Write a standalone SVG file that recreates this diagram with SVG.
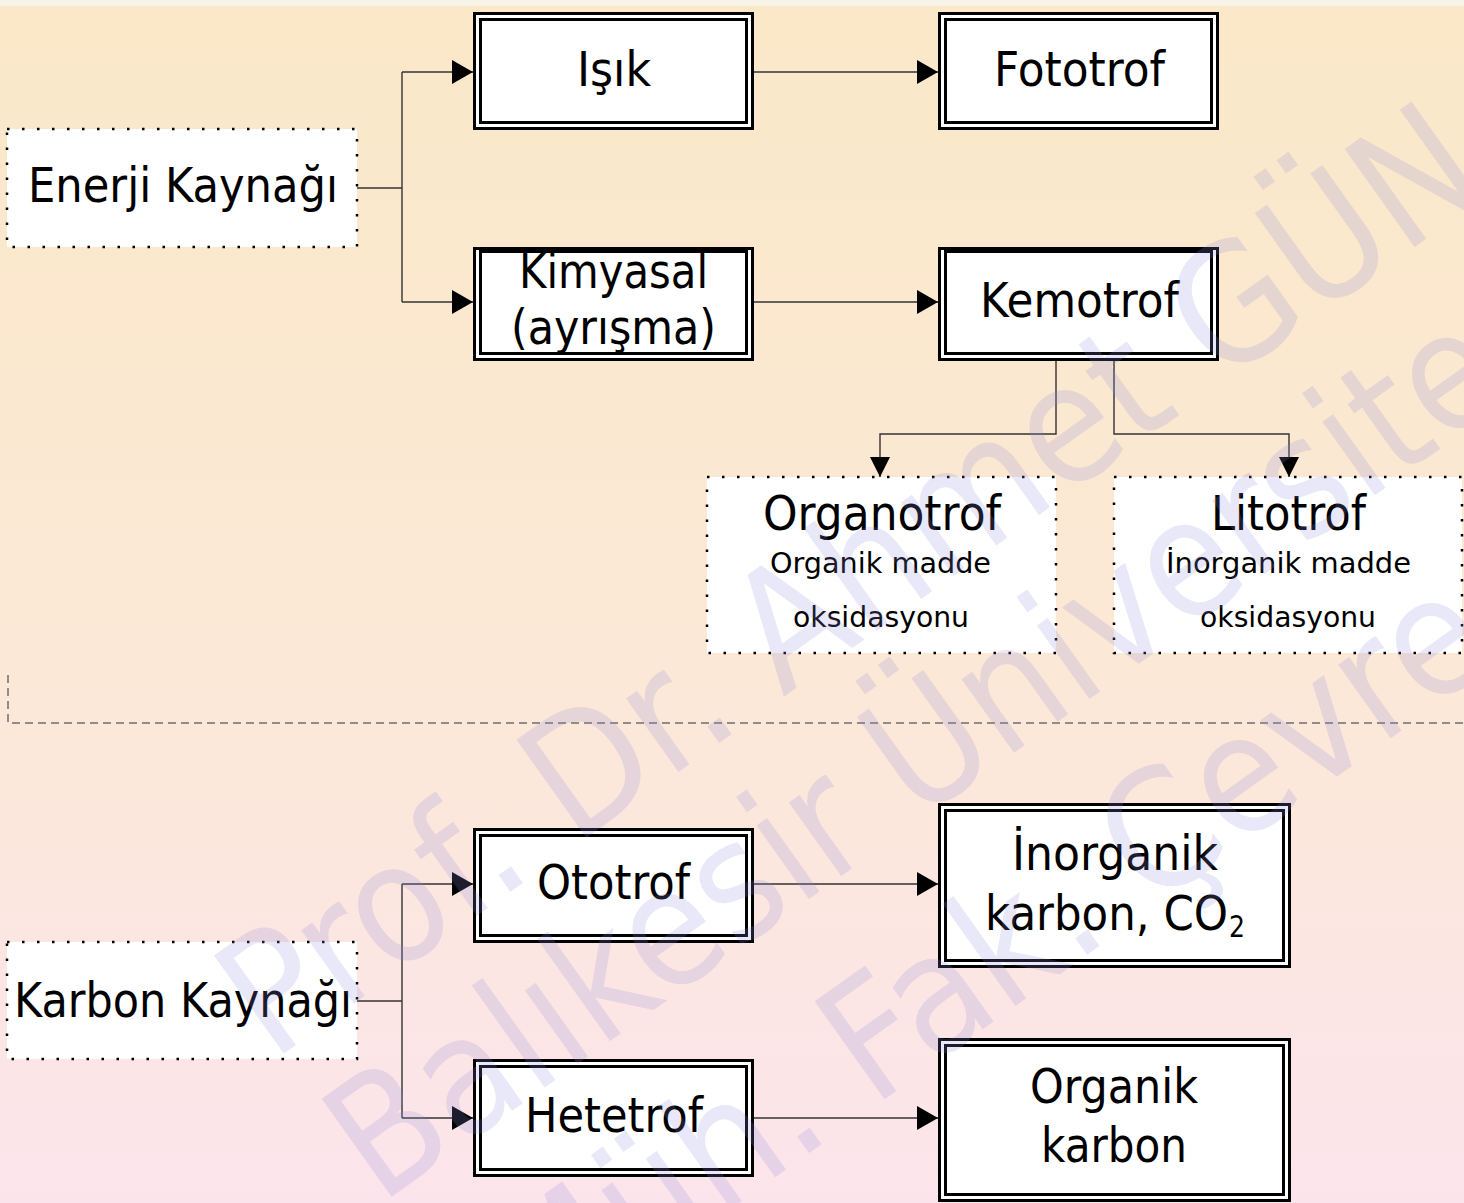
<svg xmlns="http://www.w3.org/2000/svg" width="1464" height="1203" viewBox="0 0 1464 1203">
  <defs>
    <linearGradient id="bg" x1="0" y1="0" x2="0" y2="1">
      <stop offset="0" stop-color="#FAE8C8"/>
      <stop offset="0.55" stop-color="#FCE8D6"/>
      <stop offset="1" stop-color="#FCE4EC"/>
    </linearGradient>
    <marker id="arrow" markerUnits="userSpaceOnUse" markerWidth="24" markerHeight="26" refX="21" refY="12" orient="auto">
      <path d="M0,0 L21,12 L0,24 Z" fill="#000"/>
    </marker>
    <marker id="arrowv" markerUnits="userSpaceOnUse" markerWidth="22" markerHeight="22" refX="20" refY="10" orient="auto">
      <path d="M0,0 L20,10 L0,20 Z" fill="#000"/>
    </marker>
  </defs>
  <style>
    .outer { fill: #fff; stroke: #000; stroke-width: 3; }
    .inner { fill: none; stroke: #000; stroke-width: 3; }
    .dotted { fill: #fff; stroke: #000; stroke-width: 2.5; stroke-dasharray: 2.5 12.5; }
    .conn { fill: none; stroke: #333; stroke-width: 1.4; }
    .lbl { font-family: "DejaVu Sans", "Verdana", sans-serif; font-size: 48px; fill: #000; text-anchor: middle; }
    .sub { font-family: "DejaVu Sans", "Verdana", sans-serif; font-size: 28px; fill: #000; text-anchor: middle; }
    .wm { font-family: "DejaVu Sans", "Verdana", sans-serif; font-size: 165px; fill: rgb(140,140,220); fill-opacity: 0.2; }
  </style>

  <!-- background -->
  <rect x="0" y="0" width="1464" height="1203" fill="url(#bg)"/>
  <rect x="0" y="0" width="1464" height="6" fill="#F7F3E6"/>

  <!-- separator -->
  <path d="M8,675 V723 H1464" fill="none" stroke="#6E6E6E" stroke-width="1.5" stroke-dasharray="8 5"/>

  <!-- connectors -->
  <g id="connectors">
    <path class="conn" d="M357,188 H402"/>
    <path class="conn" d="M402,72 V302"/>
    <path class="conn" d="M402,72 H473" marker-end="url(#arrow)"/>
    <path class="conn" d="M402,302 H473" marker-end="url(#arrow)"/>
    <path class="conn" d="M754,72 H938" marker-end="url(#arrow)"/>
    <path class="conn" d="M754,302 H938" marker-end="url(#arrow)"/>
    <path class="conn" d="M1056,361 V434 H880 V477" marker-end="url(#arrowv)"/>
    <path class="conn" d="M1114,361 V434 H1289 V477" marker-end="url(#arrowv)"/>
    <path class="conn" d="M357,1001 H402"/>
    <path class="conn" d="M402,884 V1118"/>
    <path class="conn" d="M402,884 H473" marker-end="url(#arrow)"/>
    <path class="conn" d="M402,1118 H473" marker-end="url(#arrow)"/>
    <path class="conn" d="M754,884 H938" marker-end="url(#arrow)"/>
    <path class="conn" d="M754,1118 H938" marker-end="url(#arrow)"/>
  </g>

  <!-- nodes -->
  <g id="enerji">
    <rect class="dotted" x="7" y="129" width="350" height="118"/>
    <text class="lbl" x="183" y="202" textLength="310" lengthAdjust="spacingAndGlyphs">Enerji Kaynağı</text>
  </g>
  <g id="isik">
    <rect class="outer" x="474.5" y="13.5" width="278" height="115"/>
    <rect class="inner" x="480.5" y="19.5" width="266" height="103"/>
    <text class="lbl" x="614" y="86" textLength="74" lengthAdjust="spacingAndGlyphs">Işık</text>
  </g>
  <g id="fototrof">
    <rect class="outer" x="939.5" y="13.5" width="278" height="115"/>
    <rect class="inner" x="945.5" y="19.5" width="266" height="103"/>
    <text class="lbl" x="1079.5" y="86" textLength="171" lengthAdjust="spacingAndGlyphs">Fototrof</text>
  </g>
  <g id="kimyasal">
    <rect class="outer" x="474.5" y="248.5" width="278" height="111"/>
    <rect class="inner" x="480.5" y="251.5" width="266" height="102"/>
    <text class="lbl" x="613.5" y="288" textLength="189" lengthAdjust="spacingAndGlyphs">Kimyasal</text>
    <text class="lbl" x="613.5" y="344" textLength="205" lengthAdjust="spacingAndGlyphs">(ayrışma)</text>
  </g>
  <g id="kemotrof">
    <rect class="outer" x="939.5" y="248.5" width="278" height="111"/>
    <rect class="inner" x="945.5" y="251.5" width="266" height="102"/>
    <text class="lbl" x="1079.5" y="317" textLength="199" lengthAdjust="spacingAndGlyphs">Kemotrof</text>
  </g>
  <g id="organotrof">
    <rect class="dotted" x="707" y="477" width="349" height="176"/>
    <text class="lbl" x="882" y="530" textLength="238" lengthAdjust="spacingAndGlyphs">Organotrof</text>
    <text class="sub" x="880.5" y="573" textLength="221" lengthAdjust="spacingAndGlyphs">Organik madde</text>
    <text class="sub" x="881" y="627" textLength="176" lengthAdjust="spacingAndGlyphs">oksidasyonu</text>
  </g>
  <g id="litotrof">
    <rect class="dotted" x="1114" y="477" width="348" height="176"/>
    <text class="lbl" x="1288.5" y="530" textLength="155" lengthAdjust="spacingAndGlyphs">Litotrof</text>
    <text class="sub" x="1288.5" y="573" textLength="245" lengthAdjust="spacingAndGlyphs">İnorganik madde</text>
    <text class="sub" x="1288" y="627" textLength="176" lengthAdjust="spacingAndGlyphs">oksidasyonu</text>
  </g>
  <g id="karbon">
    <rect class="dotted" x="7" y="942" width="350" height="117"/>
    <text class="lbl" x="183" y="1017" textLength="338" lengthAdjust="spacingAndGlyphs">Karbon Kaynağı</text>
  </g>
  <g id="ototrof">
    <rect class="outer" x="474.5" y="829.5" width="278" height="112"/>
    <rect class="inner" x="480.5" y="835.5" width="266" height="100"/>
    <text class="lbl" x="613.5" y="899" textLength="153" lengthAdjust="spacingAndGlyphs">Ototrof</text>
  </g>
  <g id="hetetrof">
    <rect class="outer" x="474.5" y="1060.5" width="278" height="115"/>
    <rect class="inner" x="480.5" y="1066.5" width="266" height="103"/>
    <text class="lbl" x="614" y="1132" textLength="178" lengthAdjust="spacingAndGlyphs">Hetetrof</text>
  </g>
  <g id="inorganik">
    <rect class="outer" x="939.5" y="804.5" width="350" height="162"/>
    <rect class="inner" x="945.5" y="810.5" width="338" height="150"/>
    <text class="lbl" x="1115" y="870" textLength="206" lengthAdjust="spacingAndGlyphs">İnorganik</text>
    <text class="lbl" x="985" y="930" style="text-anchor:start" textLength="243" lengthAdjust="spacingAndGlyphs">karbon, CO</text>
    <text class="lbl" x="1229" y="937" style="text-anchor:start;font-size:30px" textLength="16" lengthAdjust="spacingAndGlyphs">2</text>
  </g>
  <g id="organik">
    <rect class="outer" x="939.5" y="1039.5" width="350" height="161"/>
    <rect class="inner" x="945.5" y="1045.5" width="338" height="149"/>
    <text class="lbl" x="1114" y="1103" textLength="168" lengthAdjust="spacingAndGlyphs">Organik</text>
    <text class="lbl" x="1114" y="1162" textLength="146" lengthAdjust="spacingAndGlyphs">karbon</text>
  </g>

  <!-- watermark -->
  <g id="watermark">
    <text class="wm" transform="translate(272,1062) rotate(-35.5)" textLength="1500" lengthAdjust="spacingAndGlyphs">Prof. Dr. Ahmet GÜN</text>
    <text class="wm" transform="translate(380,1205) rotate(-35.5)" textLength="1395" lengthAdjust="spacingAndGlyphs">Balıkesir Üniversite</text>
    <text class="wm" transform="translate(540,1345) rotate(-35.5)" textLength="1180" lengthAdjust="spacingAndGlyphs">Müh. Fak. Çevre</text>
  </g>
</svg>
